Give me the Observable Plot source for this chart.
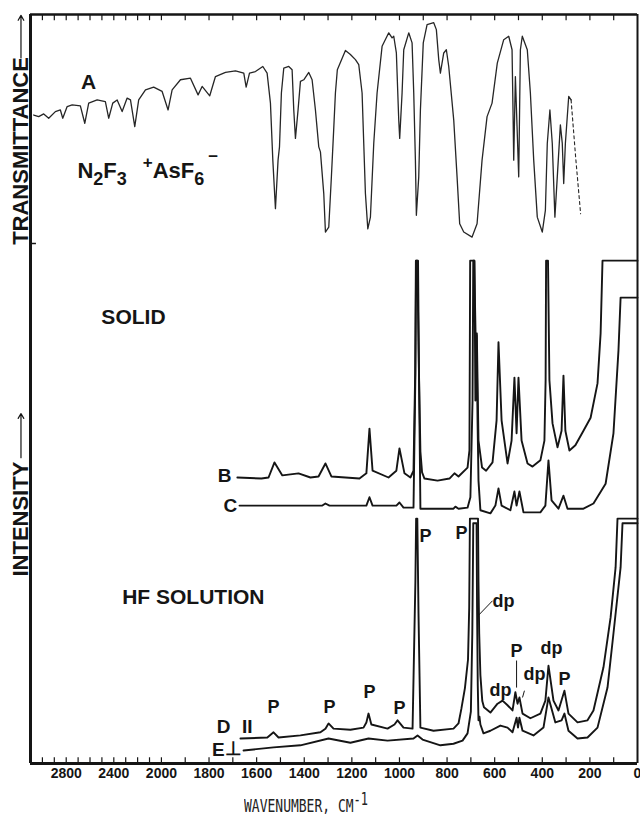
<!DOCTYPE html>
<html><head><meta charset="utf-8">
<script src="https://cdn.jsdelivr.net/npm/d3@7"></script>
<script src="https://cdn.jsdelivr.net/npm/@observablehq/plot@0.6"></script>
<style>
html,body{margin:0;padding:0;background:#fff;}
body{width:640px;height:816px;overflow:hidden;position:relative;}
#top svg,#bottom svg{display:block;}
#xlabel{position:absolute;left:244px;top:796px;font-family:"DejaVu Sans Mono","Liberation Mono",monospace;font-size:13px;line-height:13px;transform:scaleY(1.42);transform-origin:left top;color:#222;white-space:nowrap;}
#xlabel sup{font-size:12px;line-height:0;position:relative;top:2px;vertical-align:top;}
</style></head><body>
<div id="top"></div>
<div id="bottom"></div>
<div id="xlabel">WAVENUMBER, CM<sup>-1</sup></div>
<script>
// ---------- axis definition (wavenumber, cm-1) ----------
const xLimits = [3100, 0];
const xBreak = 2000;                         // above 2000 cm-1 the chart scale is halved
const labelTicks = [2800, 2400, 2000, 1800, 1600, 1400, 1200, 1000, 800, 600, 400, 200, 0];
const minorTicks = d3.range(100, 3100, 100);

// ---------- A: IR spectrum, [wavenumber, transmittance %] ----------
const irA = [[3073,56.1],[3031,55.4],[2989,56.6],[2947,54.7],[2891,57.6],[2849,58.3],[2829,54.7],[2792,59.8],[2750,60.5],[2681,60.1],[2644,52.5],[2611,61.3],[2540,62.7],[2471,62.0],[2443,54.7],[2409,61.3],[2372,62.7],[2330,57.6],[2288,63.5],[2260,62.7],[2224,51.0],[2191,62.7],[2134,67.1],[2065,68.3],[1997,66.4],[1972,58.3],[1955,67.1],[1920,71.5],[1878,72.2],[1846,64.9],[1829,68.6],[1797,64.5],[1773,72.9],[1731,74.7],[1689,75.4],[1654,74.4],[1644,68.3],[1630,74.4],[1605,75.1],[1574,77.3],[1556,74.4],[1542,61.3],[1532,36.4],[1521,15.2],[1510,36.4],[1504,42.2],[1496,65.7],[1486,76.6],[1465,77.3],[1451,75.9],[1444,58.3],[1437,45.9],[1426,58.3],[1416,70.8],[1402,71.5],[1381,74.7],[1367,71.5],[1353,58.3],[1339,42.2],[1332,40.0],[1318,21.8],[1311,5.0],[1297,7.1],[1286,29.0],[1277,48.2],[1269,65.8],[1261,75.9],[1227,84.3],[1206,82.5],[1185,80.3],[1171,78.1],[1157,65.7],[1150,43.7],[1143,21.8],[1133,6.4],[1122,11.5],[1108,43.7],[1094,65.7],[1073,86.1],[1045,92.0],[1031,89.8],[1024,90.5],[1013,83.2],[1003,53.9],[999,45.9],[989,65.7],[982,84.6],[961,92.0],[947,87.6],[940,65.7],[933,36.4],[929,12.3],[919,29.1],[912,58.3],[900,87.6],[884,95.6],[856,96.4],[845,93.4],[835,80.3],[828,74.4],[814,83.2],[803,84.6],[793,77.3],[772,53.9],[758,29.1],[747,8.6],[730,5.0],[695,2.8],[674,8.6],[653,36.4],[632,55.4],[611,61.3],[589,78.8],[562,89.0],[541,90.5],[527,84.6],[523,58.3],[520,36.4],[513,72.9],[506,51.0],[499,29.1],[492,84.6],[484,90.5],[463,84.6],[450,65.7],[436,36.4],[421,11.5],[400,5.0],[387,14.5],[379,43.7],[368,58.3],[358,43.7],[347,11.5],[337,29.1],[324,51.8],[316,43.7],[310,26.2],[303,43.7],[289,64.2],[279,62.7]];
const irADashed = [[279,62.7],[260,37.9],[239,13.0]];

// ---------- Raman spectra, [wavenumber, intensity (offset, arb.)] ----------
const ramanB = [[1681,55.0],[1580,54.8],[1550,55.0],[1525,57.9],[1492,55.4],[1424,55.8],[1374,55.0],[1340,55.2],[1311,57.7],[1286,55.2],[1168,54.8],[1139,55.8],[1126,64.4],[1113,56.3],[1046,55.0],[1013,56.3],[1000,60.6],[979,55.8],[954,55.0],[941,56.3],[934,75.0],[931,96.7],[922,96.7],[918,75.0],[912,60.0],[905,56.0],[895,54.8],[840,54.4],[790,54.8],[769,55.8],[752,55.2],[714,56.9],[706,60.2],[703,96.7],[686,96.7],[680,81.9],[675,82.7],[668,62.1],[653,56.9],[636,56.3],[609,57.9],[592,66.0],[584,81.0],[571,66.0],[546,57.7],[529,62.1],[517,74.2],[508,63.5],[500,74.2],[487,62.1],[462,57.7],[441,57.1],[408,58.3],[391,62.1],[386,73.7],[384,96.7],[376,96.7],[370,73.7],[357,65.4],[336,60.8],[319,64.0],[311,74.6],[303,64.0],[286,60.2],[261,61.2],[227,64.0],[197,66.5],[168,73.1],[155,82.7],[147,96.7],[0,96.7]];
const ramanC = [[1672,49.6],[1475,49.6],[1324,49.6],[1311,50.0],[1294,49.6],[1139,49.6],[1126,51.2],[1113,49.6],[1013,49.6],[1000,50.2],[983,49.2],[941,49.2],[933,75.0],[930,96.7],[925,96.7],[918,75.0],[912,49.0],[773,49.0],[765,49.4],[752,49.0],[714,49.2],[702,51.2],[693,69.8],[690,96.7],[685,96.7],[681,69.8],[676,82.3],[672,66.0],[668,54.4],[660,48.7],[618,48.1],[597,49.6],[584,52.9],[571,49.6],[534,48.7],[517,52.3],[508,49.6],[496,52.3],[479,48.3],[408,48.3],[387,49.6],[374,58.3],[361,50.6],[332,49.0],[311,51.5],[294,49.0],[227,49.0],[185,50.0],[134,53.8],[101,63.5],[80,79.4],[71,89.6],[0,89.6]];
const ramanD = [[1668,4.8],[1555,5.0],[1529,6.0],[1508,5.0],[1416,5.4],[1332,6.0],[1311,6.7],[1298,7.7],[1277,6.7],[1206,6.5],[1151,6.9],[1139,7.9],[1130,9.6],[1118,7.5],[1050,6.7],[1021,7.5],[1008,8.3],[983,6.9],[945,6.7],[933,35.2],[930,47.1],[925,47.1],[920,28.8],[912,6.9],[857,6.3],[773,6.7],[752,7.7],[740,10.5],[725,14.5],[712,20.0],[707,30.0],[704,47.1],[670,47.1],[668,35.0],[665,25.0],[660,17.0],[652,12.0],[645,10.8],[618,9.8],[588,11.5],[567,12.1],[546,11.2],[525,10.2],[513,13.7],[504,11.5],[496,12.7],[483,9.6],[450,8.7],[408,9.6],[387,12.1],[374,18.8],[353,12.1],[332,10.2],[307,14.0],[290,9.6],[252,7.9],[210,8.3],[185,10.2],[143,18.5],[113,28.1],[92,37.7],[84,47.1],[0,47.1]];
const ramanE = [[1655,2.5],[1529,3.1],[1416,3.5],[1298,4.8],[1206,4.0],[1130,4.8],[1050,4.4],[941,4.8],[924,5.4],[903,4.6],[828,3.5],[773,3.8],[735,4.4],[714,5.8],[700,10.0],[694,25.0],[691,40.0],[690,46.2],[676,46.2],[674,30.0],[671,15.0],[668,8.3],[664,9.0],[660,7.5],[647,5.8],[618,6.3],[576,7.3],[546,6.9],[525,6.0],[508,8.8],[502,6.9],[496,8.8],[483,6.3],[437,5.4],[395,6.9],[374,12.7],[345,7.9],[319,8.3],[307,9.6],[290,6.3],[252,4.8],[210,5.0],[168,6.9],[126,14.6],[101,25.0],[71,37.7],[63,46.2],[0,46.2]];

// ---------- annotations ----------
const FORMULA = "N2F3+ AsF6\u2212";
const irLabels = [{text: "A", wn: 2613, v: 70.3}];
const irFormula = [{text: FORMULA, wn: 2706, v: 31.5}];
const sectionLabels = [{text: "SOLID", wn: 2235, v: 85.8}, {text: "HF SOLUTION", wn: 1866, v: 31.9}];
const traceLabels = [{text: "B", wn: 1735, v: 55.4}, {text: "C", wn: 1710, v: 49.6}, {text: "D", wn: 1739, v: 7.1}, {text: "II", wn: 1639, v: 7.1}, {text: "E", wn: 1761, v: 2.7}, {text: "\u22A5", wn: 1697, v: 2.9}];
const peakLabels = [{text: "P", wn: 1529, v: 10.8}, {text: "P", wn: 1294, v: 10.8}, {text: "P", wn: 1126, v: 13.7}, {text: "P", wn: 1000, v: 10.6}, {text: "P", wn: 891, v: 43.8}, {text: "P", wn: 739, v: 44.2}, {text: "dp", wn: 563, v: 31.3}, {text: "dp", wn: 576, v: 14.0}, {text: "P", wn: 508, v: 21.5}, {text: "dp", wn: 433, v: 17.1}, {text: "dp", wn: 361, v: 22.1}, {text: "P", wn: 307, v: 16.2}];
const leaders = [{wn1: 609, v1: 31.3, wn2: 668, v2: 28.5}, {wn1: 508, v1: 19.8, wn2: 508, v2: 14.6}, {wn1: 475, v1: 14.0, wn2: 483, v2: 12.7}];
const axisTitles = [{text: "TRANSMITTANCE", wn: 3180, v: 40.4, a1: 81, a2: 99.6}];
const axisTitles2 = [{text: "INTENSITY", wn: 3180, v: 47.0, a1: 58.8, a2: 67.3}];

// chart-paper position: the wavenumber scale is compressed 2:1 above 2000 cm-1
const warp = wn => wn <= xBreak ? wn : xBreak + (wn - xBreak) / 2;
const unwarp = u => u <= xBreak ? u : xBreak + (u - xBreak) * 2;

// ---------- layout / style ----------
const xRange = [30, 637];
const SANS = "'Liberation Sans', Arial, Helvetica, sans-serif";
const INK = "#151515";
const X0 = d => warp(d[0]), Y1 = d => d[1];
const XW = d => warp(d.wn);

const xScale = {domain: xLimits.map(warp), range: xRange};

const topPlot = Plot.plot({
  width: 640, height: 243, marginTop: 14, marginBottom: 0, marginLeft: 30, marginRight: 3,
  x: {...xScale, axis: null},
  y: {domain: [0, 100], axis: null},
  style: {fontFamily: SANS, overflow: "visible", background: "white", color: INK},
  marks: [
    Plot.ruleX(minorTicks, {x: d => warp(d), y1: 100, y2: 97.3, stroke: INK, strokeWidth: 1.2}),
    Plot.ruleX([warp(xLimits[0])], {stroke: INK, strokeWidth: 3}),
    Plot.ruleX([warp(xLimits[1])], {stroke: INK, strokeWidth: 2}),
    Plot.ruleY([100], {stroke: INK, strokeWidth: 2.5}),
    Plot.ruleY([0], {x1: warp(xLimits[0]), x2: warp(3050), stroke: INK, strokeWidth: 1.5}),
    Plot.line(irA, {x: X0, y: Y1, stroke: "#262626", strokeWidth: 1.3}),
    Plot.line(irADashed, {x: X0, y: Y1, stroke: "#262626", strokeWidth: 1.1, strokeDasharray: "3,3"}),
    Plot.text(irLabels, {x: XW, y: "v", text: "text", fontSize: 21, fontWeight: "bold", fill: INK}),
    Plot.text(irFormula, {x: XW, y: "v", text: "text", fontSize: 22, fontWeight: "bold", fill: INK, textAnchor: "start"}),
    Plot.text(axisTitles, {x: XW, y: "v", text: "text", rotate: -90, fontSize: 22, fontWeight: "bold", fill: INK}),
    Plot.arrow(axisTitles, {x1: XW, x2: XW, y1: "a1", y2: "a2", stroke: INK, strokeWidth: 1.2, headLength: 7})
  ]
});

const bottomPlot = Plot.plot({
  width: 640, height: 553, marginTop: 0, marginBottom: 33, marginLeft: 30, marginRight: 3,
  x: {...xScale, ticks: labelTicks.map(warp), tickSize: 0, tickPadding: 5, tickFormat: u => String(Math.round(unwarp(u))), label: null},
  y: {domain: [0, 100], axis: null},
  style: {fontFamily: SANS, fontSize: "14px", fontWeight: "bold", overflow: "visible", background: "white", color: INK},
  marks: [
    Plot.ruleX(minorTicks, {x: d => warp(d), y1: 0, y2: 1.1, stroke: INK, strokeWidth: 1.2}),
    Plot.ruleX([warp(xLimits[0])], {stroke: INK, strokeWidth: 3}),
    Plot.ruleX([warp(xLimits[1])], {stroke: INK, strokeWidth: 2}),
    Plot.ruleY([0], {stroke: INK, strokeWidth: 3}),
    Plot.line(ramanB, {x: X0, y: Y1, stroke: INK, strokeWidth: 1.9}),
    Plot.line(ramanC, {x: X0, y: Y1, stroke: INK, strokeWidth: 1.9}),
    Plot.line(ramanD, {x: X0, y: Y1, stroke: INK, strokeWidth: 1.9}),
    Plot.line(ramanE, {x: X0, y: Y1, stroke: INK, strokeWidth: 1.9}),
    Plot.link(leaders, {x1: d => warp(d.wn1), y1: "v1", x2: d => warp(d.wn2), y2: "v2", stroke: INK, strokeWidth: 1}),
    Plot.text(sectionLabels, {x: XW, y: "v", text: "text", fontSize: 21, fontWeight: "bold", fill: INK}),
    Plot.text(traceLabels, {x: XW, y: "v", text: "text", fontSize: 19, fontWeight: "bold", fill: INK}),
    Plot.text(peakLabels, {x: XW, y: "v", text: "text", fontSize: 18, fontWeight: "bold", fill: INK}),
    Plot.text(axisTitles2, {x: XW, y: "v", text: "text", rotate: -90, fontSize: 22, fontWeight: "bold", fill: INK}),
    Plot.arrow(axisTitles2, {x1: XW, x2: XW, y1: "a1", y2: "a2", stroke: INK, strokeWidth: 1.2, headLength: 7})
  ]
});

// sub/superscripts in the formula
const parts = [
  {s: "N"}, {s: "2", dy: 7, fs: 18}, {s: "F", dy: -7}, {s: "3", dy: 7, fs: 18},
  {s: "+", dy: -17, dx: 16, fs: 17}, {s: "AsF", dy: 10}, {s: "6", dy: 7, fs: 18},
  {s: "\u2212", dy: -23, dx: 4, fs: 17}
];
d3.select(topPlot).selectAll("text").filter(function() { return this.textContent === FORMULA; }).each(function() {
  const t = d3.select(this);
  t.text("");
  parts.forEach(p => {
    const ts = t.append("tspan").text(p.s);
    if (p.dy) ts.attr("dy", p.dy);
    if (p.dx) ts.attr("dx", p.dx);
    if (p.fs) ts.attr("font-size", p.fs);
  });
});

document.getElementById("top").append(topPlot);
document.getElementById("bottom").append(bottomPlot);
</script>
</body></html>
